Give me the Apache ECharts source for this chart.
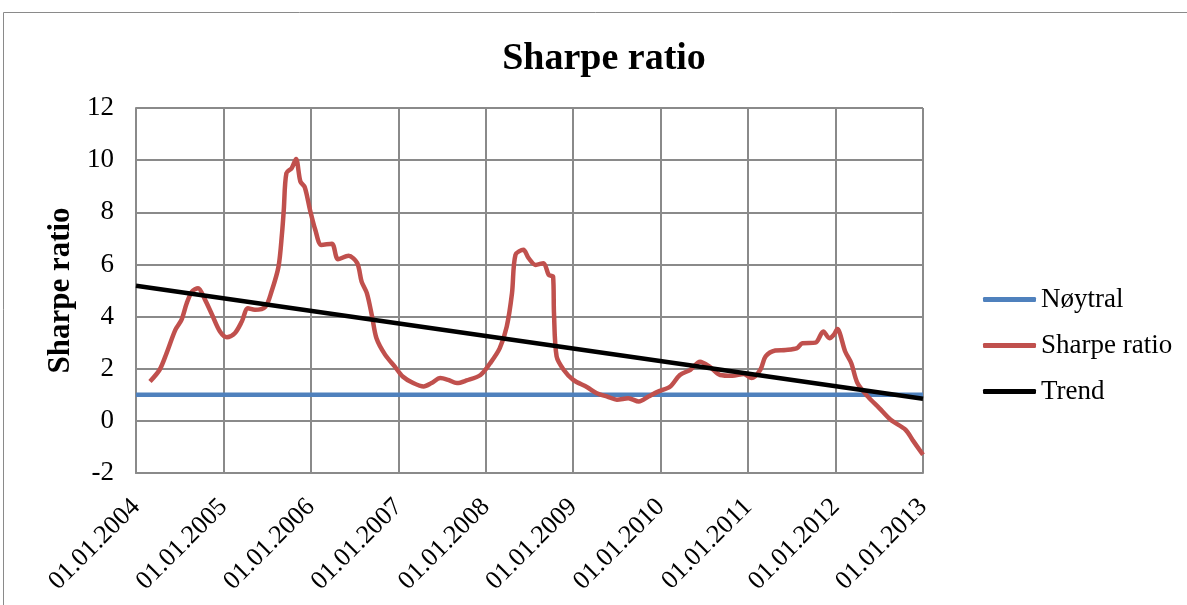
<!DOCTYPE html>
<html>
<head>
<meta charset="utf-8">
<script src="https://cdn.jsdelivr.net/npm/echarts@6/dist/echarts.min.js"></script>
<style>
  html, body { margin: 0; padding: 0; background: #fff; }
  #chart { width: 1187px; height: 605px; }
</style>
</head>
<body>
<div id="chart"></div>
<script>
// Time stamps as fractional years, rolling Sharpe ratio values
const sharpeYears = [
  2004.16, 2004.27, 2004.35, 2004.45, 2004.52, 2004.58, 2004.64, 2004.71, 2004.79, 2004.87,
  2004.96, 2005.04, 2005.13, 2005.21, 2005.28, 2005.36, 2005.48, 2005.55, 2005.63, 2005.67,
  2005.69, 2005.72, 2005.78, 2005.83, 2005.88, 2005.93, 2005.99, 2006.05, 2006.12, 2006.24,
  2006.31, 2006.43, 2006.53, 2006.58, 2006.64, 2006.70, 2006.75, 2006.85, 2006.96, 2007.05,
  2007.17, 2007.29, 2007.38, 2007.48, 2007.57, 2007.67, 2007.78, 2007.94, 2008.05, 2008.16,
  2008.24, 2008.30, 2008.34, 2008.43, 2008.49, 2008.57, 2008.66, 2008.72, 2008.77, 2008.78,
  2008.81, 2008.89, 2009.00, 2009.16, 2009.27, 2009.39, 2009.50, 2009.63, 2009.75, 2009.86,
  2009.97, 2010.11, 2010.22, 2010.34, 2010.45, 2010.56, 2010.68, 2010.82, 2010.95, 2011.04,
  2011.14, 2011.20, 2011.31, 2011.43, 2011.56, 2011.62, 2011.77, 2011.86, 2011.93, 2011.98,
  2012.02, 2012.11, 2012.18, 2012.25, 2012.37, 2012.50, 2012.63, 2012.80, 2012.88, 2013.00
];
const sharpeValues = [
  1.51, 1.96, 2.60, 3.49, 3.87, 4.51, 4.96, 5.09, 4.64, 4.07,
  3.43, 3.21, 3.36, 3.81, 4.32, 4.26, 4.38, 4.96, 5.92, 7.20,
  8.09, 9.50, 9.69, 10.04, 9.18, 8.96, 8.09, 7.33, 6.75, 6.79,
  6.20, 6.33, 6.05, 5.34, 4.90, 4.00, 3.17, 2.53, 2.08, 1.70,
  1.45, 1.32, 1.45, 1.64, 1.57, 1.45, 1.55, 1.76, 2.21, 2.79,
  3.62, 4.90, 6.37, 6.56, 6.24, 5.98, 6.05, 5.60, 5.53, 4.13,
  2.47, 1.96, 1.57, 1.29, 1.06, 0.93, 0.81, 0.87, 0.74, 0.93,
  1.12, 1.32, 1.76, 1.96, 2.27, 2.08, 1.76, 1.73, 1.80, 1.64,
  1.96, 2.47, 2.70, 2.72, 2.79, 2.98, 3.00, 3.43, 3.17, 3.30,
  3.52, 2.66, 2.21, 1.45, 0.93, 0.49, 0.04, -0.34, -0.73, -1.30
];
// Neutral level and linear trend, each given at the axis ends
const neutralYears = [2004.0, 2013.0];
const neutralValues = [1, 1];
const trendYears = [2004.0, 2013.0];
const trendValues = [5.18, 0.85];

const xTicks = [2004, 2005, 2006, 2007, 2008, 2009, 2010, 2011, 2012, 2013];
const yTicks = [-2, 0, 2, 4, 6, 8, 10, 12];

const pair = (xs, ys) => xs.map((x, i) => [x, ys[i]]);
const serif = '"Liberation Serif", "Times New Roman", serif';

const chart = echarts.init(document.getElementById('chart'));
chart.setOption({
  animation: false,
  backgroundColor: '#fff',
  textStyle: { fontFamily: serif },
  title: {
    text: 'Sharpe ratio',
    left: 599, top: 35, textAlign: 'center',
    textStyle: { fontFamily: serif, fontSize: 38, fontWeight: 'bold', color: '#000' }
  },
  legend: {
    orient: 'vertical',
    left: 983, top: 286, padding: 0,
    itemWidth: 53, itemHeight: 5, itemGap: 19,
    icon: 'roundRect',
    textStyle: { fontFamily: serif, fontSize: 27, color: '#000' },
    data: ['Nøytral', 'Sharpe ratio', 'Trend']
  },
  graphic: [{
    type: 'rect',
    shape: { x: 3.5, y: 12.5, width: 1300, height: 700 },
    style: { fill: 'none', stroke: '#8a8a8a', lineWidth: 1 },
    silent: true
  }],
  grid: { left: 136, right: 264, top: 108, bottom: 132 },
  xAxis: {
    type: 'value',
    min: xTicks[0], max: xTicks[xTicks.length - 1], interval: 1,
    axisLine: { show: true, onZero: false, lineStyle: { color: '#8a8a8a', width: 2 } },
    axisTick: { show: false },
    splitLine: { show: true, lineStyle: { color: '#8a8a8a', width: 2 } },
    axisLabel: {
      rotate: 45, margin: 30,
      fontFamily: serif, fontSize: 26, color: '#000',
      formatter: v => '01.01.' + v
    }
  },
  yAxis: {
    type: 'value',
    min: yTicks[0], max: yTicks[yTicks.length - 1], interval: 2,
    name: 'Sharpe ratio',
    nameLocation: 'middle', nameGap: 56, nameRotate: 90,
    nameTextStyle: { fontFamily: serif, fontSize: 31, fontWeight: 'bold', color: '#000' },
    axisLine: { show: true, lineStyle: { color: '#8a8a8a', width: 2 } },
    axisTick: { show: false },
    splitLine: { show: true, lineStyle: { color: '#8a8a8a', width: 2 } },
    axisLabel: { fontFamily: serif, fontSize: 27, color: '#000', margin: 22 }
  },
  series: [
    {
      name: 'Nøytral', type: 'line', showSymbol: false,
      data: pair(neutralYears, neutralValues),
      itemStyle: { color: '#4F81BD' },
      lineStyle: { color: '#4F81BD', width: 4.5 }
    },
    {
      name: 'Sharpe ratio', type: 'line', showSymbol: false, smooth: 0.3,
      data: pair(sharpeYears, sharpeValues),
      itemStyle: { color: '#C0504D' },
      lineStyle: { color: '#C0504D', width: 4.5 }
    },
    {
      name: 'Trend', type: 'line', showSymbol: false,
      data: pair(trendYears, trendValues),
      itemStyle: { color: '#000' },
      lineStyle: { color: '#000', width: 4.5 }
    }
  ]
});
</script>
</body>
</html>
